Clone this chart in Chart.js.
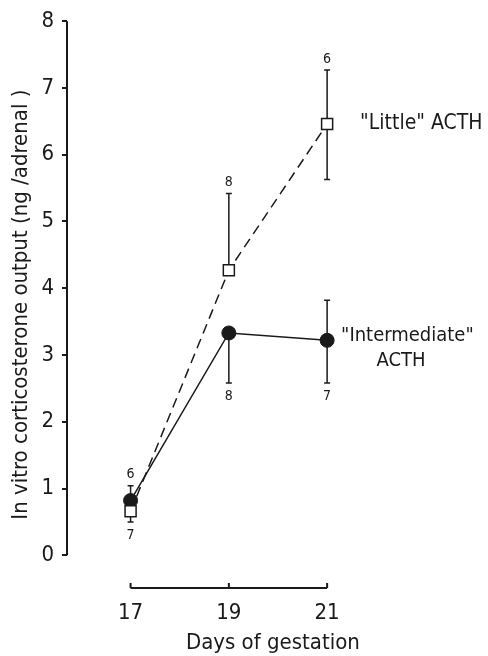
<!DOCTYPE html>
<html>
<head>
<meta charset="utf-8">
<script src="https://cdn.jsdelivr.net/npm/chart.js@4.4.0/dist/chart.umd.min.js"></script>
<style>
  html, body { margin: 0; padding: 0; background: #fff; }
  #wrap { width: 488px; height: 656px; }
</style>
</head>
<body>
<div id="wrap"><canvas id="chart" width="488" height="656"></canvas></div>
<script>
// Days of gestation
const days = [17, 19, 21];
const yTicks = [0, 1, 2, 3, 4, 5, 6, 7, 8];

// "Little" ACTH (open squares, dashed)
const littleMean = [0.66, 4.27, 6.46];
const littleUpper = [null, 5.42, 7.27];
const littleLower = [0.5, null, 5.63];
const littleN = ['7', '8', '6'];
const littleNSide = ['below', 'above', 'above'];

// "Intermediate" ACTH (filled circles, solid)
const intermMean = [0.82, 3.33, 3.22];
const intermUpper = [1.04, null, 3.82];
const intermLower = [null, 2.58, 2.58];
const intermN = ['6', '8', '7'];
const intermNSide = ['above', 'below', 'below'];

const ink = '#1a1a1a';
const fontFam = '"Liberation Sans Narrow", "DejaVu Sans Condensed", sans-serif';

const toPoints = (ys) => days.map((d, i) => ({ x: d, y: ys[i] }));

// Error bars, n labels, axis lines and series labels
const extras = {
    id: 'extras',
    beforeDatasetsDraw(chart) {
        const { ctx, scales: { x, y } } = chart;
        ctx.save();
        ctx.strokeStyle = ink;
        ctx.lineWidth = 1.5;
        const bar = (xv, from, to) => {
            if (to === null) return;
            const px = x.getPixelForValue(xv);
            const p1 = y.getPixelForValue(from);
            const p2 = y.getPixelForValue(to);
            ctx.beginPath();
            ctx.moveTo(px, p1);
            ctx.lineTo(px, p2);
            ctx.moveTo(px - 3, p2);
            ctx.lineTo(px + 3, p2);
            ctx.stroke();
        };
        days.forEach((d, i) => {
            bar(d, littleMean[i], littleUpper[i]);
            bar(d, littleMean[i], littleLower[i]);
            bar(d, intermMean[i], intermUpper[i]);
            bar(d, intermMean[i], intermLower[i]);
        });
        ctx.restore();
    },
    afterDraw(chart) {
        const { ctx, chartArea, scales: { x, y } } = chart;
        ctx.save();
        ctx.strokeStyle = ink;
        ctx.fillStyle = ink;

        // y axis line from 0 to 8
        ctx.lineWidth = 2;
        ctx.beginPath();
        ctx.moveTo(chartArea.left, y.getPixelForValue(0));
        ctx.lineTo(chartArea.left, y.getPixelForValue(8));
        ctx.stroke();

        // x axis line 17..21 with ticks pointing up
        const xb = chartArea.bottom;
        ctx.beginPath();
        ctx.moveTo(x.getPixelForValue(17), xb);
        ctx.lineTo(x.getPixelForValue(21), xb);
        days.forEach(d => {
            ctx.moveTo(x.getPixelForValue(d), xb);
            ctx.lineTo(x.getPixelForValue(d), xb - 5);
        });
        ctx.stroke();

        // n labels
        ctx.font = '14px ' + fontFam;
        ctx.textAlign = 'center';
        ctx.textBaseline = 'middle';
        const nLabel = (d, mean, up, low, txt, side) => {
            const end = side === 'above' ? (up !== null ? up : mean) : (low !== null ? low : mean);
            const py = y.getPixelForValue(end) + (side === 'above' ? -11 : 13);
            ctx.fillText(txt, x.getPixelForValue(d), py);
        };
        days.forEach((d, i) => {
            nLabel(d, littleMean[i], littleUpper[i], littleLower[i], littleN[i], littleNSide[i]);
            nLabel(d, intermMean[i], intermUpper[i], intermLower[i], intermN[i], intermNSide[i]);
        });

        // series labels
        ctx.font = '21px ' + fontFam;
        ctx.textAlign = 'left';
        const lx = x.getPixelForValue(21);
        ctx.fillText('"Little" ACTH', lx + 33, y.getPixelForValue(littleMean[2]));
        ctx.font = '20px ' + fontFam;
        ctx.fillText('"Intermediate"', lx + 14, y.getPixelForValue(intermMean[2]) - 5);
        ctx.textAlign = 'center';
        ctx.fillText('ACTH', lx + 74, y.getPixelForValue(intermMean[2]) + 20);
        ctx.restore();
    }
};

const ctx = document.getElementById('chart').getContext('2d');
const chart = new Chart(ctx, {
    type: 'line',
    data: {
        datasets: [
            {
                label: '"Little" ACTH',
                data: toPoints(littleMean),
                borderColor: ink,
                borderWidth: 1.5,
                borderDash: [10, 6],
                pointStyle: 'rect',
                pointRadius: 7.8,
                pointBackgroundColor: '#fff',
                pointBorderColor: ink,
                pointBorderWidth: 1.5,
                tension: 0
            },
            {
                label: '"Intermediate" ACTH',
                data: toPoints(intermMean),
                borderColor: ink,
                borderWidth: 1.5,
                pointStyle: 'circle',
                pointRadius: 7,
                pointBackgroundColor: ink,
                pointBorderColor: ink,
                pointBorderWidth: 1,
                tension: 0
            }
        ]
    },
    options: {
        responsive: false,
        animation: false,
        layout: { padding: { top: 20, right: 0, left: 0, bottom: 0 } },
        plugins: {
            legend: { display: false },
            tooltip: { enabled: false }
        },
        scales: {
            x: {
                type: 'linear',
                min: 15.706,
                max: 24.085,
                afterBuildTicks: (scale) => { scale.ticks = days.map(v => ({ value: v })); },
                afterFit: (scale) => { scale.height = 68; },
                grid: { display: false },
                border: { display: false },
                ticks: {
                    color: ink,
                    padding: 4,
                    font: { family: fontFam, size: 22 }
                },
                title: {
                    display: true,
                    text: 'Days of gestation',
                    color: ink,
                    padding: { top: 6, bottom: 0 },
                    font: { family: fontFam, size: 22 }
                }
            },
            y: {
                min: -0.49,
                max: 8,
                afterBuildTicks: (scale) => { scale.ticks = yTicks.map(v => ({ value: v })); },
                afterFit: (scale) => { scale.width = 67; },
                grid: {
                    drawOnChartArea: false,
                    drawTicks: true,
                    tickLength: 5,
                    color: ink,
                    lineWidth: 2
                },
                border: { display: false },
                ticks: {
                    color: ink,
                    padding: 8,
                    font: { family: fontFam, size: 22 }
                },
                title: {
                    display: true,
                    text: 'In vitro corticosterone output (ng /adrenal )',
                    color: ink,
                    padding: { top: 8, bottom: 0 },
                    font: { family: fontFam, size: 22 }
                }
            }
        }
    },
    plugins: [extras]
});
</script>
</body>
</html>
